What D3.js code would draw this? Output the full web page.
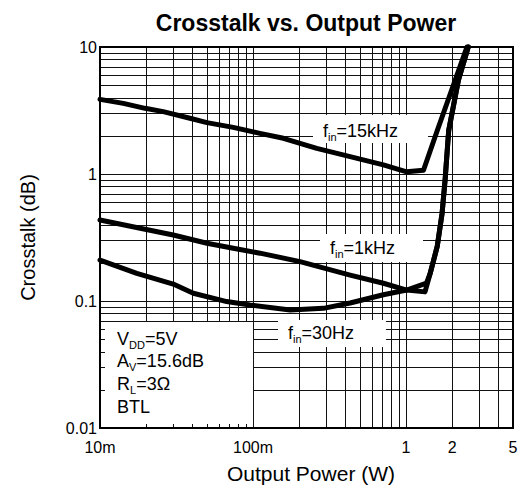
<!DOCTYPE html>
<html lang="en">
<head>
<meta charset="UTF-8">
<title>Crosstalk vs. Output Power</title>
<style>
  body { margin: 0; background: #fff; }
  text { font-family: "Liberation Sans", Arial, Helvetica, sans-serif; fill: #000; }
</style>
</head>
<body>
<svg width="521" height="487"></svg>
<script src="https://d3js.org/d3.v7.min.js"></script>
<script>
// curves: output power (W) / crosstalk (dB)
var p15k = [0.01, 0.0142, 0.0197, 0.0259, 0.0387, 0.05, 0.0743, 0.111, 0.158, 0.261, 0.431, 0.711, 1.01, 1.3, 1.6, 2.5];
var c15k = [3.87, 3.6, 3.29, 3.1, 2.75, 2.54, 2.33, 2.09, 1.91, 1.59, 1.37, 1.18, 1.04, 1.07, 2.2, 10];

var p1k = [0.01, 0.0197, 0.0301, 0.05, 0.0743, 0.111, 0.203, 0.431, 0.711, 1.01, 1.33, 1.44, 1.6, 1.72, 1.8, 1.9, 2.2, 2.55];
var c1k = [0.434, 0.367, 0.331, 0.285, 0.26, 0.238, 0.204, 0.16, 0.138, 0.122, 0.118, 0.166, 0.27, 0.49, 0.9, 2.2, 5.5, 10];

var p30 = [0.01, 0.0174, 0.0301, 0.0407, 0.0673, 0.0955, 0.175, 0.288, 0.431, 0.711, 1.01, 1.36, 1.44, 1.6, 1.72, 1.8, 1.9, 2.2, 2.55];
var c30 = [0.21, 0.165, 0.136, 0.115, 0.099, 0.093, 0.085, 0.0875, 0.0964, 0.112, 0.122, 0.138, 0.166, 0.27, 0.49, 0.9, 2.2, 5.5, 10];

var xTickVals = [0.01, 0.1, 1, 2, 5];
var xTickLabels = ["10m", "100m", "1", "2", "5"];
var yTickVals = [10, 1, 0.1, 0.01];
var yTickLabels = ["10", "1", "0.1", "0.01"];

var svg = d3.select("svg");
var pL = 100, pR = 513, pT = 47, pB = 428;

var x = d3.scaleLog().domain([0.01, 5]).range([pL, pR]);
var y = d3.scaleLog().domain([0.01, 10]).range([pB, pT]);

// grid
var grid = svg.append("g").attr("stroke", "#111").attr("stroke-width", 1);
grid.selectAll(".hg").data(y.ticks()).enter().append("line")
  .attr("x1", pL).attr("x2", pR)
  .attr("y1", d => Math.round(y(d)) + 0.5).attr("y2", d => Math.round(y(d)) + 0.5);
grid.selectAll(".vg").data(x.ticks()).enter().append("line")
  .attr("y1", pT).attr("y2", pB)
  .attr("x1", d => Math.round(x(d)) + 0.5).attr("x2", d => Math.round(x(d)) + 0.5);

// white boxes behind conditions and curve labels
var boxTop = 322;
svg.append("rect").attr("x", pL + 1).attr("y", boxTop)
  .attr("width", x(0.1) - pL - 1).attr("height", pB - boxTop).attr("fill", "#fff");
svg.append("rect").attr("x", 313).attr("y", 115).attr("width", 115).attr("height", 28).attr("fill", "#fff");
svg.append("rect").attr("x", 320).attr("y", 234).attr("width", 103).attr("height", 28).attr("fill", "#fff");
svg.append("rect").attr("x", 278).attr("y", 320).attr("width", 108).attr("height", 27).attr("fill", "#fff");

// short ticks inside the condition box
var tk = svg.append("g").attr("stroke", "#111").attr("stroke-width", 1);
tk.selectAll(".lt").data(y.ticks().filter(d => y(d) > boxTop && d > 0.01)).enter().append("line")
  .attr("x1", pL).attr("x2", pL + 5)
  .attr("y1", d => Math.round(y(d)) + 0.5).attr("y2", d => Math.round(y(d)) + 0.5);
tk.selectAll(".bt").data(x.ticks().filter(d => d > 0.01 && d < 0.1)).enter().append("line")
  .attr("y1", pB).attr("y2", pB - 4)
  .attr("x1", d => Math.round(x(d)) + 0.5).attr("x2", d => Math.round(x(d)) + 0.5);

// curves
var line = d3.line().x(d => x(d[0])).y(d => y(d[1]));
[[p15k, c15k], [p1k, c1k], [p30, c30]].forEach(function (s) {
  svg.append("path")
    .datum(d3.zip(s[0], s[1]))
    .attr("d", line)
    .attr("fill", "none")
    .attr("stroke", "#000")
    .attr("stroke-width", 5)
    .attr("stroke-linejoin", "round")
    .attr("stroke-linecap", "round");
});

// frame
svg.append("rect").attr("x", pL).attr("y", pT)
  .attr("width", pR - pL).attr("height", pB - pT)
  .attr("fill", "none").attr("stroke", "#000").attr("stroke-width", 2);

// tick labels
svg.selectAll(".xl").data(xTickVals).enter().append("text")
  .attr("x", d => x(d)).attr("y", 453)
  .attr("text-anchor", "middle").style("font-size", "16px")
  .text((d, i) => xTickLabels[i]);
svg.selectAll(".yl").data(yTickVals).enter().append("text")
  .attr("x", 97).attr("y", d => y(d)).attr("dy", "0.35em")
  .attr("text-anchor", "end").style("font-size", "16px")
  .text((d, i) => yTickLabels[i]);

// titles
svg.append("text").attr("x", 306).attr("y", 31).attr("text-anchor", "middle")
  .style("font-size", "23px").style("font-weight", "bold").text("Crosstalk vs. Output Power");
svg.append("text").attr("x", 311).attr("y", 481).attr("text-anchor", "middle")
  .style("font-size", "21px").text("Output Power (W)");
svg.append("text").attr("transform", "translate(35," + ((pT + pB) / 2) + ") rotate(-90)")
  .attr("text-anchor", "middle").style("font-size", "20px").text("Crosstalk (dB)");

// labels with subscripts
function subLabel(px, py, main, sub, rest) {
  var t = svg.append("text").attr("x", px).attr("y", py).style("font-size", "18px");
  t.append("tspan").text(main);
  t.append("tspan").attr("dy", 4).style("font-size", "11px").text(sub);
  t.append("tspan").attr("dy", -4).text(rest);
  return t;
}
subLabel(323, 137, "f", "in", "=15kHz");
subLabel(330, 254, "f", "in", "=1kHz");
subLabel(288, 339, "f", "in", "=30Hz");

subLabel(117, 345, "V", "DD", "=5V");
subLabel(117, 367, "A", "V", "=15.6dB");
subLabel(117, 390, "R", "L", "=3\u03A9");
svg.append("text").attr("x", 117).attr("y", 413).style("font-size", "18px").text("BTL");
</script>
</body>
</html>
